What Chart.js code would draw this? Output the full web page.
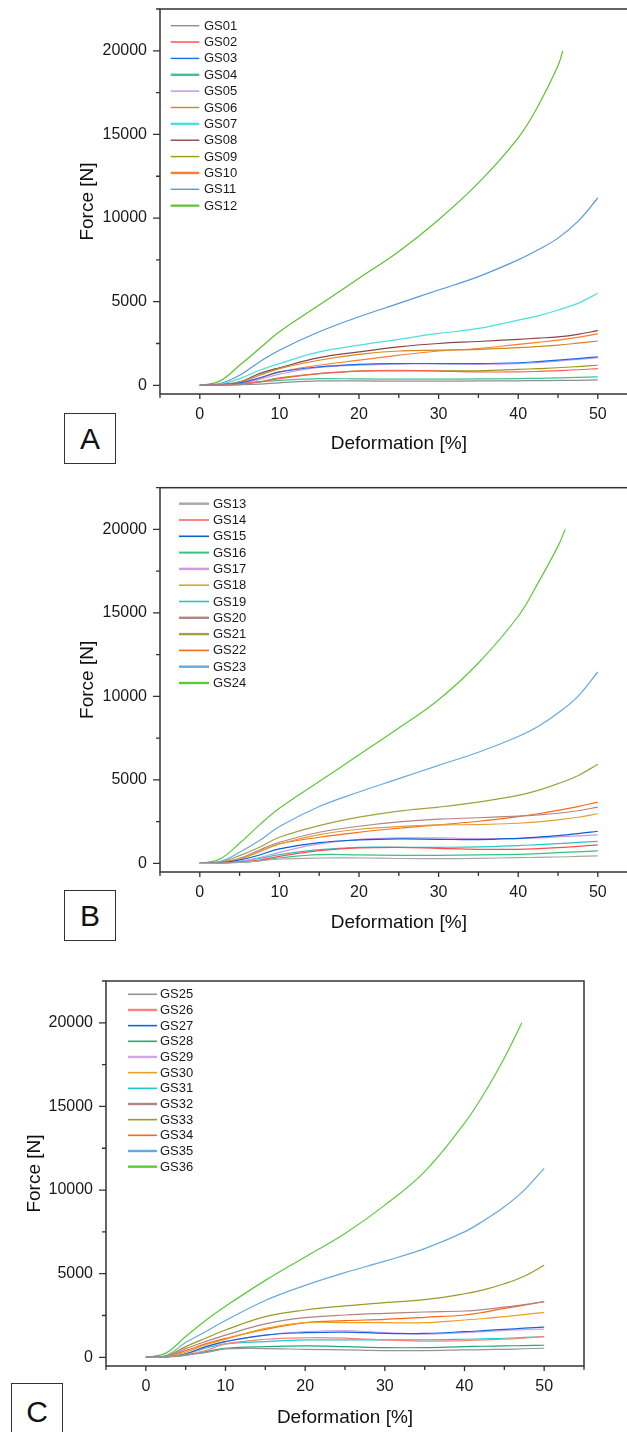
<!DOCTYPE html>
<html><head><meta charset="utf-8">
<script src="https://cdn.jsdelivr.net/npm/chart.js@4.4.1/dist/chart.umd.min.js"></script>
<style>
html,body{margin:0;padding:0;background:#fff;overflow:hidden;width:627px;height:1432px;}
#wrap{position:relative;width:627px;height:1432px;overflow:hidden;background:#fff;}
canvas{position:absolute;left:0;}
.tag{position:absolute;border:1.5px solid #333;box-sizing:border-box;font-family:"Liberation Sans",Arial,sans-serif;font-size:30px;color:#111;display:flex;align-items:center;justify-content:center;background:#fff;}
</style></head><body><div id="wrap">
<canvas id="cA" width="640" height="470" style="top:0px"></canvas>
<canvas id="cB" width="640" height="480" style="top:470px"></canvas>
<canvas id="cC" width="627" height="482" style="top:950px"></canvas>
<div class="tag" style="left:64px;top:413px;width:52px;height:51px">A</div>
<div class="tag" style="left:64px;top:890px;width:52px;height:51px">B</div>
<div class="tag" style="left:11px;top:1383px;width:52px;height:57px">C</div>
</div>
<script>
// ---------- data (Deformation [%] vs Force [N]) ----------
const deformation = [0,2.5,5,7.5,10,15,20,25,30,35,40,42.5,45,47.5,50];
const deformationGS12 = [0,2.5,5,7.5,10,15,20,25,30,35,40,42.5,45,45.6];
const deformationGS24 = [0,2.5,5,7.5,10,15,20,25,30,35,40,42.5,45,45.9];
const deformationGS36 = [0,2.5,5,7.5,10,15,20,25,30,35,40,42.5,45,47.2];

const GS01 = [0,10,30,70,150,260,260,250,250,260,270,280,290,300,320];
const GS02 = [0,20,80,200,400,700,850,900,850,800,800,830,880,930,1000];
const GS03 = [0,30,150,450,800,1100,1250,1300,1300,1300,1350,1420,1500,1600,1700];
const GS04 = [0,20,80,200,300,400,380,370,370,380,400,420,440,470,500];
const GS05 = [0,20,100,350,670,1070,1200,1280,1300,1270,1300,1360,1450,1550,1650];
const GS06 = [0,40,200,600,1000,1500,1850,2050,2100,2150,2250,2320,2400,2520,2650];
const GS07 = [0,60,400,900,1300,2000,2400,2750,3100,3400,3900,4150,4500,4900,5500];
const GS08 = [0,40,200,700,1050,1650,2000,2300,2500,2620,2750,2820,2900,3050,3270];
const GS09 = [0,20,70,200,450,700,850,860,870,870,950,1000,1050,1120,1200];
const GS10 = [0,30,120,400,800,1200,1500,1800,2050,2200,2450,2570,2700,2870,3070];
const GS11 = [0,100,600,1400,2100,3200,4100,4900,5700,6500,7500,8100,8800,9800,11200];
const GS12 = [0,250,1200,2200,3200,4800,6400,8000,9900,12100,14800,16700,19100,20000];

const GS13 = [0,10,50,150,260,320,320,290,280,300,340,360,380,410,440];
const GS14 = [0,20,80,200,420,760,920,960,900,840,840,880,940,1020,1100];
const GS15 = [0,30,200,500,860,1240,1400,1460,1440,1420,1500,1570,1660,1780,1920];
const GS16 = [0,20,60,150,320,520,500,480,480,500,540,580,640,690,740];
const GS17 = [0,20,100,350,660,1160,1440,1520,1520,1480,1480,1520,1580,1640,1700];
const GS18 = [0,40,250,700,1160,1720,2040,2200,2300,2320,2400,2480,2600,2760,2970];
const GS19 = [0,20,120,300,520,820,960,960,960,980,1060,1120,1180,1250,1320];
const GS20 = [0,50,300,800,1260,1860,2220,2480,2650,2730,2830,2900,3000,3150,3370];
const GS21 = [0,70,460,960,1560,2260,2770,3130,3370,3670,4070,4370,4770,5250,5930];
const GS22 = [0,40,250,700,1160,1560,1860,2100,2300,2520,2800,2970,3170,3400,3670];
const GS23 = [0,100,660,1360,2200,3400,4270,5070,5870,6650,7600,8200,9000,10000,11460];
const GS24 = [0,250,1200,2300,3300,4900,6500,8100,9800,12000,14800,16800,19000,20000];

const GS25 = [0,20,150,280,500,520,480,440,400,400,440,460,480,510,540];
const GS26 = [0,20,150,400,800,1080,1170,1150,1040,960,1000,1040,1080,1150,1240];
const GS27 = [0,30,200,640,940,1330,1470,1510,1430,1430,1530,1600,1670,1740,1810];
const GS28 = [0,20,120,340,540,640,680,640,580,580,640,660,680,700,720];
const GS29 = [0,30,200,600,940,1330,1530,1600,1470,1390,1470,1530,1600,1650,1690];
const GS30 = [0,40,300,750,1070,1730,2070,2070,2070,2070,2230,2320,2430,2550,2690];
const GS31 = [0,30,200,550,800,940,1040,1040,1040,1040,1080,1110,1140,1190,1240];
const GS32 = [0,50,520,940,1330,2000,2370,2530,2630,2710,2770,2860,3000,3150,3330];
const GS33 = [0,70,640,1140,1630,2430,2830,3070,3270,3450,3800,4050,4400,4850,5500];
const GS34 = [0,40,400,800,1130,1670,2070,2190,2270,2390,2530,2700,2930,3120,3330];
const GS35 = [0,100,880,1530,2200,3400,4300,5060,5750,6500,7500,8200,9000,10000,11300];
const GS36 = [0,250,1240,2200,3050,4600,6000,7400,9100,11100,14000,15800,17900,20000];

const xTickLabels = [0,10,20,30,40,50];
const xMinorTicks = [-5,5,15,25,35,45,55];
const yTickLabels = [0,5000,10000,15000,20000];
const yMinorTicks = [2500,7500,12500,17500,22500];

// ---------- series definitions ----------
const panelA = [
  ['GS01', deformation, GS01, '#8f8f8f', 1.4],
  ['GS02', deformation, GS02, '#ff5c5c', 1.6],
  ['GS03', deformation, GS03, '#1a6fe6', 1.4],
  ['GS04', deformation, GS04, '#3fc48f', 2.4],
  ['GS05', deformation, GS05, '#c99af2', 1.6],
  ['GS06', deformation, GS06, '#cc8a1c', 1.4],
  ['GS07', deformation, GS07, '#4ddede', 2.4],
  ['GS08', deformation, GS08, '#8a4646', 1.4],
  ['GS09', deformation, GS09, '#9c9a10', 1.4],
  ['GS10', deformation, GS10, '#ff7a33', 2.4],
  ['GS11', deformation, GS11, '#5599d9', 1.4],
  ['GS12', deformationGS12, GS12, '#5cc22e', 2.2]
];
const panelB = [
  ['GS13', deformation, GS13, '#a8a8a8', 2.4],
  ['GS14', deformation, GS14, '#ff4d4d', 1.4],
  ['GS15', deformation, GS15, '#0a5fd6', 1.6],
  ['GS16', deformation, GS16, '#33c47f', 2.0],
  ['GS17', deformation, GS17, '#cc9ae8', 2.4],
  ['GS18', deformation, GS18, '#e0a035', 1.6],
  ['GS19', deformation, GS19, '#22c8c8', 1.6],
  ['GS20', deformation, GS20, '#b08585', 2.4],
  ['GS21', deformation, GS21, '#a3a040', 2.4],
  ['GS22', deformation, GS22, '#ff6a14', 1.6],
  ['GS23', deformation, GS23, '#66aadd', 2.4],
  ['GS24', deformationGS24, GS24, '#5cc93a', 2.4]
];
const panelC = [
  ['GS25', deformation, GS25, '#959595', 1.6],
  ['GS26', deformation, GS26, '#ff8080', 2.4],
  ['GS27', deformation, GS27, '#1166dd', 1.6],
  ['GS28', deformation, GS28, '#22aa72', 1.6],
  ['GS29', deformation, GS29, '#d1a6ee', 2.4],
  ['GS30', deformation, GS30, '#eea01e', 1.6],
  ['GS31', deformation, GS31, '#1ccccc', 1.6],
  ['GS32', deformation, GS32, '#ad8585', 2.4],
  ['GS33', deformation, GS33, '#9c9a22', 1.6],
  ['GS34', deformation, GS34, '#ff6611', 1.6],
  ['GS35', deformation, GS35, '#66aadd', 2.4],
  ['GS36', deformationGS36, GS36, '#5cc93a', 2.4]
];

const FONT = '"Liberation Sans", Arial, sans-serif';

const framePlugin = {
  id: 'frame',
  beforeDatasetsDraw(chart) {
    const {ctx, chartArea: ca, scales: {x, y}} = chart;
    ctx.save();
    ctx.strokeStyle = '#333';
    ctx.lineWidth = 1.5;
    ctx.strokeRect(ca.left, ca.top, ca.right - ca.left, ca.bottom - ca.top);
    ctx.lineWidth = 1.3;
    ctx.beginPath();
    xTickLabels.forEach(v => { const p = x.getPixelForValue(v); ctx.moveTo(p, ca.bottom); ctx.lineTo(p, ca.bottom + 5); });
    xMinorTicks.forEach(v => { const p = x.getPixelForValue(v); ctx.moveTo(p, ca.bottom); ctx.lineTo(p, ca.bottom + 4); });
    yTickLabels.forEach(v => { const p = y.getPixelForValue(v); ctx.moveTo(ca.left - 7, p); ctx.lineTo(ca.left, p); });
    yMinorTicks.forEach(v => { const p = y.getPixelForValue(v); ctx.moveTo(ca.left - 4, p); ctx.lineTo(ca.left, p); });
    ctx.stroke();
    ctx.restore();
  },
  afterDraw(chart, args, opts) {
    const {ctx} = chart;
    ctx.save();
    ctx.font = '13px ' + FONT;
    ctx.textBaseline = 'middle';
    ctx.textAlign = 'left';
    opts.series.forEach((s, i) => {
      const yy = opts.y0 + i * opts.dy;
      ctx.strokeStyle = s[3];
      ctx.lineWidth = s[4];
      ctx.beginPath();
      ctx.moveTo(opts.x1, yy);
      ctx.lineTo(opts.x2, yy);
      ctx.stroke();
      ctx.fillStyle = '#1a1a1a';
      ctx.fillText(s[0], opts.tx, yy + 0.5);
    });
    ctx.restore();
  }
};

function makeChart(id, series, cfg) {
  const datasets = series.map(s => ({
    label: s[0],
    data: s[1].map((xv, i) => ({x: xv, y: s[2][i]})),
    borderColor: s[3],
    borderWidth: 1.2,
    pointRadius: 0,
    fill: false,
    tension: 0.4
  }));
  return new Chart(document.getElementById(id), {
    type: 'line',
    data: {datasets},
    plugins: [framePlugin],
    options: {
      responsive: false,
      animation: false,
      devicePixelRatio: 1,
      layout: {padding: cfg.padding},
      plugins: {
        legend: {display: false},
        tooltip: {enabled: false},
        frame: {series, x1: cfg.lx1, x2: cfg.lx2, tx: cfg.tx, y0: cfg.ly0, dy: cfg.ldy}
      },
      scales: {
        x: {
          type: 'linear', min: -5, max: 55,
          grid: {display: false, drawTicks: false},
          border: {display: false},
          afterBuildTicks: sc => { sc.ticks = xTickLabels.map(v => ({value: v})); },
          afterFit: sc => { sc.height = cfg.xh; sc.paddingLeft = 0; sc.paddingRight = 0; sc.paddingTop = 0; sc.paddingBottom = 0; },
          ticks: {autoSkip: false, maxRotation: 0, padding: 10.5, color: '#1a1a1a', font: {family: FONT, size: 16}, callback: v => String(v)},
          title: {display: true, text: 'Deformation [%]', color: '#111', font: {family: FONT, size: 19}, padding: {top: 0, bottom: cfg.xtb}}
        },
        y: {
          type: 'linear', min: -520, max: 22500,
          grid: {display: false, drawTicks: false},
          border: {display: false},
          afterBuildTicks: sc => { sc.ticks = yTickLabels.map(v => ({value: v})); },
          afterFit: sc => { sc.width = cfg.yw; sc.paddingLeft = 0; sc.paddingRight = 0; sc.paddingTop = 0; sc.paddingBottom = 0; },
          ticks: {autoSkip: false, padding: 13, color: '#1a1a1a', font: {family: FONT, size: 16}, callback: v => String(v)},
          title: {display: true, text: 'Force [N]', color: '#111', font: {family: FONT, size: 19}, padding: {top: cfg.ytp, bottom: 0}}
        }
      }
    }
  });
}

makeChart('cA', panelA, {padding: {left: 0, top: 9, right: 2.4, bottom: 6}, yw: 160, xh: 70, ytp: 76.6, xtb: 8.6,
  lx1: 170.7, lx2: 199.3, tx: 204, ly0: 25.7, ldy: 16.36});
makeChart('cB', panelB, {padding: {left: 0, top: 17.7, right: 2.4, bottom: 8}, yw: 160, xh: 70, ytp: 76.6, xtb: 8.3,
  lx1: 179, lx2: 209, tx: 213, ly0: 33.7, ldy: 16.3});
makeChart('cC', panelC, {padding: {left: 0, top: 31, right: 43, bottom: 1}, yw: 106, xh: 65, ytp: 23.6, xtb: 2.3,
  lx1: 128, lx2: 157, tx: 160, ly0: 44.3, ldy: 15.67});
</script>
</body></html>
